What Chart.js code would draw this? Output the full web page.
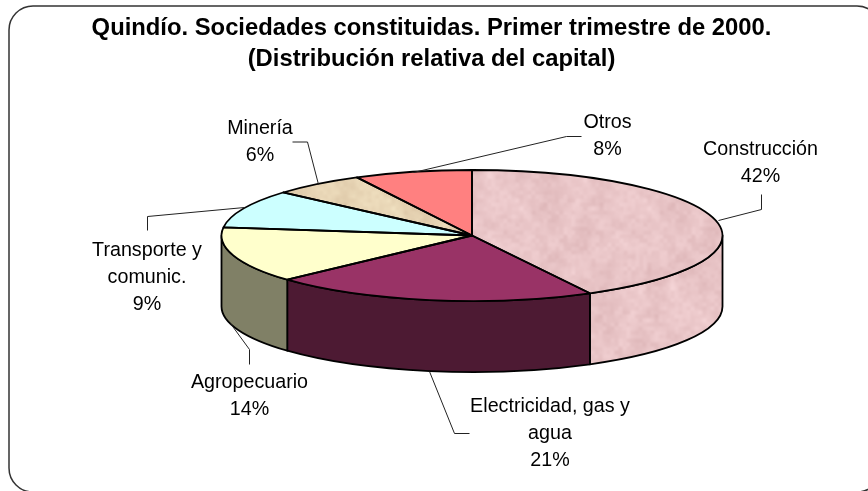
<!DOCTYPE html>
<html><head><meta charset="utf-8">
<script src="https://cdn.jsdelivr.net/npm/chart.js@4"></script>
<style>html,body{margin:0;padding:0;background:#fff}canvas{display:block}</style>
</head><body><canvas id="c" width="868" height="491"></canvas>
<script>
const titleLines = ['Quindío. Sociedades constituidas. Primer trimestre de 2000.', '(Distribución relativa del capital)'];
const categories = ['Construcción', 'Electricidad, gas y agua', 'Agropecuario', 'Transporte y comunic.', 'Minería', 'Otros'];
const shares = [42.2, 21, 13.8, 9.4, 6, 7.6];
const topColors = ['#E8C4C6', '#993366', '#FFFFCC', '#CCFFFF', '#E6D3B3', '#FF8080'];
const wallColors = ['#E8C4C6', '#4D1A33', '#808066', '#668080', '#736959', '#804040'];
const labelLines = [['Construcción'], ['Electricidad, gas y', 'agua'], ['Agropecuario'], ['Transporte y', 'comunic.'], ['Minería'], ['Otros']];

// layout of the drawing (not data)
const PIE = {cx: 472, cy: 235.5, rx: 250.5, ry: 65.5, depth: 71};
const labelPos = [{x:760.5,y:148},{x:550,y:405},{x:249.5,y:381},{x:147,y:249},{x:260,y:127},{x:607.5,y:121}];
const LINE_H = 27;
const leaders = [
  [[761,194],[761,209],[718,220]],
  [[429,371],[454,433],[469,433]],
  [[249,364],[249,349],[230,323]],
  [[147,230],[147,216],[244,207]],
  [[292,141.5],[307,141.5],[318,184]],
  [[581,136],[566,136],[413,172]]
];

function tile(r, g, b, amp) {
  const n = 128, cv = document.createElement('canvas');
  cv.width = cv.height = n;
  const x = cv.getContext('2d'), im = x.createImageData(n, n);
  const h = (i, j, p) => { i = (i + p) % p; j = (j + p) % p; const s = Math.sin(i * 127.1 + j * 311.7 + p * 17.3) * 43758.5453; return s - Math.floor(s); };
  const sm = t => t * t * (3 - 2 * t);
  const noise = (u, v, cell) => {
    const p = n / cell, a = Math.floor(u / cell), c = Math.floor(v / cell), fx = sm(u / cell - a), fy = sm(v / cell - c);
    return (h(a,c,p)*(1-fx)+h(a+1,c,p)*fx)*(1-fy)+(h(a,c+1,p)*(1-fx)+h(a+1,c+1,p)*fx)*fy;
  };
  for (let j = 0; j < n; j++) for (let i = 0; i < n; i++) {
    const v = (noise(i,j,16)*0.4 + noise(i,j,8)*0.3 + noise(i,j,4)*0.3 - 0.5) * amp * 2;
    const k = (j*n+i)*4;
    im.data[k]=r+v; im.data[k+1]=g+v*1.3; im.data[k+2]=b+v*1.3; im.data[k+3]=255;
  }
  x.putImageData(im,0,0);
  return cv;
}
const ctx0 = document.getElementById('c').getContext('2d');
const tilePink = tile(232,196,198,14), tileTan = tile(230,211,179,14);
const patTop = {0: ctx0.createPattern(tilePink,'repeat'), 4: ctx0.createPattern(tileTan,'repeat')};
const patWall = {0: ctx0.createPattern(tilePink,'repeat')};
const fills = topColors.map((c,i)=>patTop[i]||c);

function place(ctx, el){
  const s = el.outerRadius;
  ctx.translate(PIE.cx, PIE.cy);
  ctx.scale(PIE.rx/s, PIE.ry/s);
  ctx.translate(-el.x, -el.y);
}

const pie3d = {
  id:'pie3d',
  beforeDraw(chart){
    const c = chart.ctx;
    c.save();
    c.strokeStyle='#333'; c.lineWidth=1.5;
    c.beginPath();
    c.roundRect(9,6,872,486,24);
    c.stroke();
    c.restore();
  },
  beforeDatasetsDraw(chart){
    const c = chart.ctx, arcs = chart.getDatasetMeta(0).data;
    const {cx,cy,rx,ry,depth} = PIE;
    arcs.forEach((el,i)=>{
      for (const off of [0, 2*Math.PI]) {
        const a = Math.max(el.startAngle, off), b = Math.min(el.endAngle, off+Math.PI);
        if (b <= a) continue;
        c.save();
        c.beginPath();
        c.ellipse(cx,cy,rx,ry,0,a,b);
        c.ellipse(cx,cy+depth,rx,ry,0,b,a,true);
        c.closePath();
        c.fillStyle = patWall[i] || wallColors[i];
        c.fill();
        c.lineWidth=1.8; c.strokeStyle='#000'; c.lineJoin='round';
        c.stroke();
        c.restore();
      }
    });
  },
  beforeDatasetDraw(chart){
    const c = chart.ctx, el = chart.getDatasetMeta(0).data[0], s = el.outerRadius;
    const m = new DOMMatrix().scale(s/PIE.rx, s/PIE.ry);
    Object.values(patTop).forEach(p=>p.setTransform(m));
    c.save();
    place(c, el);
  },
  afterDatasetDraw(chart){
    const c = chart.ctx, arcs = chart.getDatasetMeta(0).data;
    c.restore();
    arcs.forEach(el=>{
      c.save();
      c.save();
      place(c, el);
      c.beginPath();
      c.moveTo(el.x, el.y);
      c.arc(el.x, el.y, el.outerRadius, el.startAngle, el.endAngle);
      c.closePath();
      c.restore();
      c.lineWidth=1.8; c.strokeStyle='#000'; c.lineJoin='round';
      c.stroke();
      c.restore();
    });
  },
  afterDraw(chart){
    const c = chart.ctx;
    c.save();
    c.strokeStyle='#222'; c.lineWidth=1;
    leaders.forEach(pts=>{
      c.beginPath();
      pts.forEach((p,i)=> i? c.lineTo(p[0]+.5,p[1]+.5):c.moveTo(p[0]+.5,p[1]+.5));
      c.stroke();
    });
    c.fillStyle='#000';
    c.font='19.7px "Liberation Sans", Arial, sans-serif';
    c.textAlign='center'; c.textBaseline='middle';
    labelLines.forEach((ls,i)=>{
      const all = ls.concat([Math.round(shares[i])+'%']);
      all.forEach((t,j)=>c.fillText(t,labelPos[i].x,labelPos[i].y+2+j*LINE_H));
    });
    c.restore();
  }
};

new Chart(document.getElementById('c'),{
  type:'pie',
  data:{labels:categories,datasets:[{data:shares,backgroundColor:fills,borderWidth:0,clip:false}]},
  plugins:[pie3d],
  options:{
    responsive:false,animation:false,
    layout:{padding:{left:0,right:5,top:13,bottom:0}},
    events:[],
    plugins:{
      legend:{display:false},tooltip:{enabled:false},
      title:{display:true,text:titleLines,color:'#000',
        font:{family:'"Liberation Sans", Arial, sans-serif',size:23.8,weight:'bold',lineHeight:1.3},
        padding:{top:0,bottom:6}}
    }
  }
});
</script></body></html>
